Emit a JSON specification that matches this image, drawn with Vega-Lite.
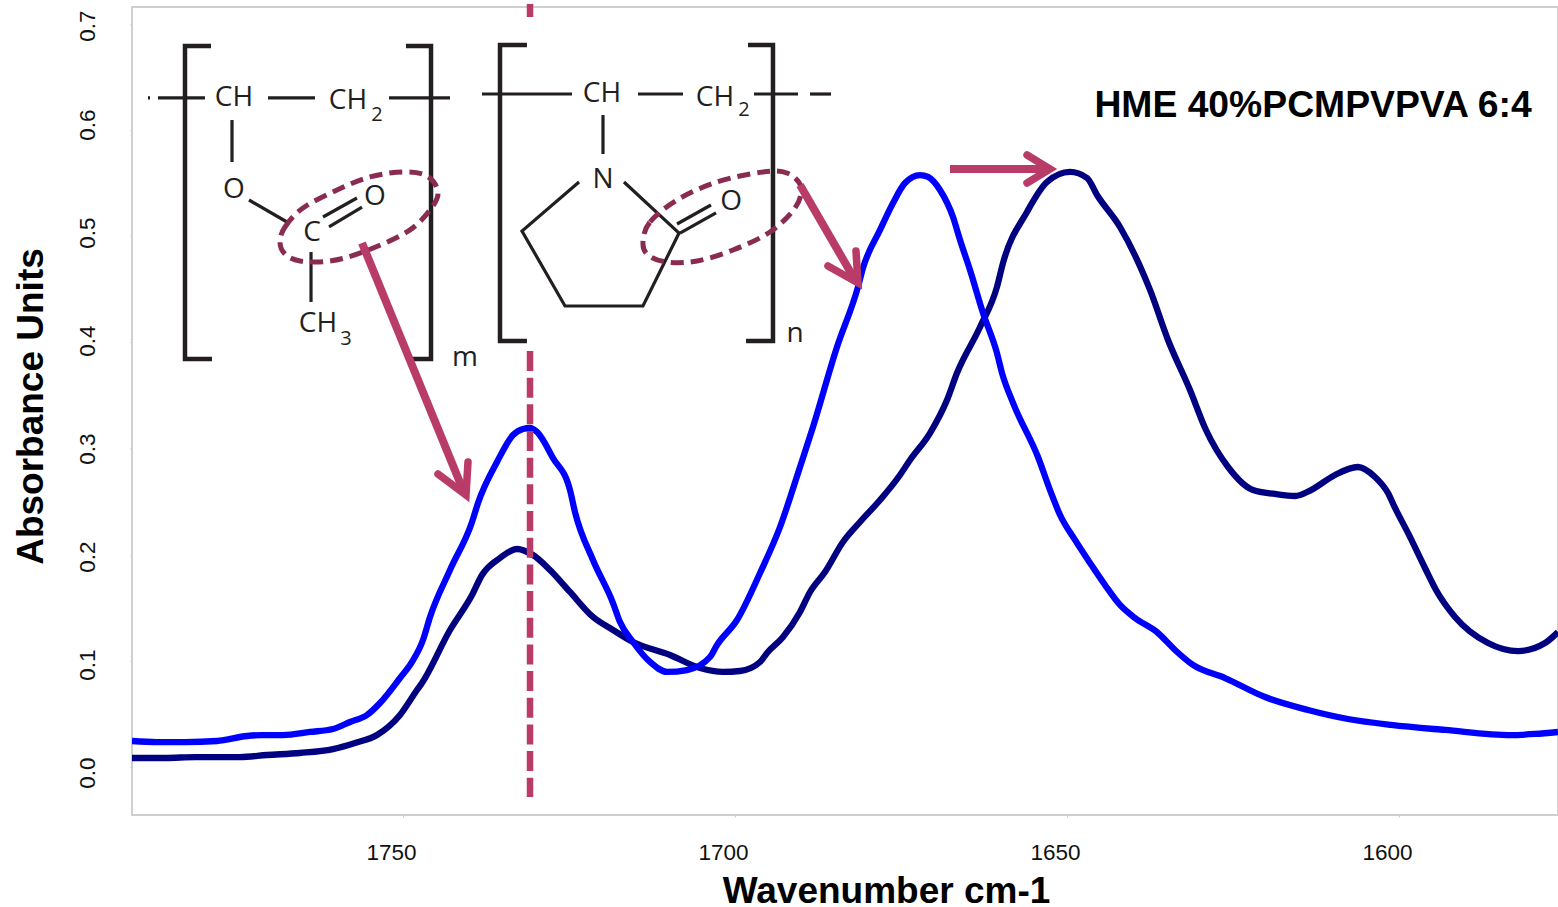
{
"$schema":"https://vega.github.io/schema/vega-lite/v6.json",
"width":1426,"height":808,
"autosize":{"type":"none"},
"padding":{"left":132,"top":7,"right":0,"bottom":92},
"background":"white",
"view":{"stroke":"#cfcfcf","strokeWidth":2,"fill":"white"},
"config":{"text":{"font":"Open Sans","color":"#231f20"}},
"encoding":{
"x":{"field":"wavenumber","type":"quantitative","scale":{"domain":[1790.81,1576.06],"zero":false,"nice":false},
"axis":{"values":[1750,1700,1650,1600],"format":"d","grid":false,"domain":false,"ticks":true,"tickSize":2,"tickColor":"#cccccc","labelFont":"Liberation Sans","labelFontSize":22.5,"labelColor":"#111111","labelOffset":-12,"labelPadding":24,"labelFlush":false,"labelOverlap":false,
"title":"Wavenumber cm-1","titleFont":"Liberation Sans","titleFontWeight":"bold","titleFontSize":37,"titleColor":"#000000","titleX":754,"titleY":58}},
"y":{"field":"absorbance","type":"quantitative","scale":{"domain":[-0.04519,0.71564],"zero":false,"nice":false},
"axis":{"values":[0,0.1,0.2,0.3,0.4,0.5,0.6,0.7],"format":".1f","grid":false,"domain":false,"ticks":true,"tickSize":2,"tickColor":"#cccccc","labelFont":"Liberation Sans","labelFontSize":22.5,"labelColor":"#111111","labelAngle":-90,"labelAlign":"center","labelBaseline":"middle","labelPadding":43,"labelOverlap":false,
"labelOffset":{"expr":"datum.value > 0.65 ? 2 : 5.5 - 18 * datum.value"},
"title":"Absorbance Units","titleFont":"Liberation Sans","titleFontWeight":"bold","titleFontSize":37,"titleColor":"#000000","titleX":-82,"titleY":399}}
},
"layer":[
{"data":{"name":"navy"},"mark":{"type":"line","color":"#000080","strokeWidth":6.3,"clip":true,"interpolate":"monotone"}},
{"data":{"name":"blue"},"mark":{"type":"line","color":"#0000ff","strokeWidth":6.3,"clip":true,"interpolate":"monotone"}},
{"data":{"name":"dashed"},"mark":{"type":"line","color":"#b83b68","strokeWidth":6.5,"strokeDash":[20,6.67],"clip":false},"encoding":{"detail":{"field":"part"},"order":{"value":null}}},
{"data":{"name":"brackets"},"mark":{"type":"line","color":"#231f20","strokeWidth":4.5,"strokeJoin":"miter"},"encoding":{"detail":{"field":"part"},"order":{"value":null}}},
{"data":{"name":"bonds"},"mark":{"type":"line","color":"#231f20","strokeWidth":3.2,"strokeJoin":"miter"},"encoding":{"detail":{"field":"part"},"order":{"value":null}}},
{"data":{"name":"atoms"},"mark":{"type":"text","fontSize":28,"align":"center","baseline":"middle","dy":1.5,"font":"Open Sans","color":"#231f20"},"encoding":{"text":{"field":"label"}}},
{"data":{"name":"subscripts"},"mark":{"type":"text","fontSize":20,"align":"center","baseline":"middle","dy":1.5,"font":"Open Sans","color":"#231f20"},"encoding":{"text":{"field":"label"}}},
{"data":{"name":"ellipses"},"mark":{"type":"line","color":"#8a2c52","strokeWidth":5,"strokeDash":[13,7],"interpolate":"cardinal-closed"},"encoding":{"detail":{"field":"part"},"order":{"value":null}}},
{"data":{"name":"shafts"},"mark":{"type":"line","color":"#b83b68","strokeWidth":8},"encoding":{"detail":{"field":"part"},"order":{"value":null}}},
{"data":{"name":"heads"},"mark":{"type":"line","color":"#b83b68","strokeWidth":7.5,"strokeCap":"round","strokeJoin":"miter","strokeMiterLimit":10},"encoding":{"detail":{"field":"part"},"order":{"value":null}}},
{"data":{"name":"caption"},"mark":{"type":"text","fontSize":37.3,"fontWeight":"bold","align":"center","baseline":"middle","dy":2,"font":"Liberation Sans","color":"#000000"},"encoding":{"text":{"field":"label"}}}
],
"datasets":{
"blue":[
{"wavenumber":1790.81,"absorbance":0.0245},{"wavenumber":1787.05,"absorbance":0.0235},{"wavenumber":1782.83,"absorbance":0.0235},{"wavenumber":1778.01,"absorbance":0.0245},{"wavenumber":1773.49,"absorbance":0.0292},{"wavenumber":1771.23,"absorbance":0.0301},{"wavenumber":1768.07,"absorbance":0.0301},{"wavenumber":1764.0,"absorbance":0.033},{"wavenumber":1760.54,"absorbance":0.0358},{"wavenumber":1757.98,"absorbance":0.0424},{"wavenumber":1755.42,"absorbance":0.049},{"wavenumber":1753.46,"absorbance":0.0603},{"wavenumber":1750.45,"absorbance":0.0838},{"wavenumber":1748.64,"absorbance":0.0989},{"wavenumber":1746.99,"absorbance":0.1196},{"wavenumber":1745.93,"absorbance":0.1413},{"wavenumber":1742.92,"absorbance":0.1855},{"wavenumber":1739.6,"absorbance":0.2307},{"wavenumber":1738.7,"absorbance":0.2486},{"wavenumber":1735.84,"absorbance":0.2872},{"wavenumber":1733.43,"absorbance":0.3126},{"wavenumber":1731.93,"absorbance":0.3183},{"wavenumber":1730.87,"absorbance":0.3192},{"wavenumber":1729.82,"absorbance":0.3155},{"wavenumber":1727.41,"absorbance":0.291},{"wavenumber":1724.85,"absorbance":0.2608},{"wavenumber":1724.1,"absorbance":0.2401},{"wavenumber":1721.39,"absorbance":0.1949},{"wavenumber":1718.37,"absorbance":0.1544},{"wavenumber":1717.32,"absorbance":0.1365},{"wavenumber":1715.36,"absorbance":0.1177},{"wavenumber":1712.8,"absorbance":0.0989},{"wavenumber":1710.24,"absorbance":0.0895},{"wavenumber":1707.23,"absorbance":0.0913},{"wavenumber":1703.77,"absorbance":0.1036},{"wavenumber":1702.71,"absorbance":0.1149},{"wavenumber":1699.7,"absorbance":0.1384},{"wavenumber":1696.23,"absorbance":0.1827},{"wavenumber":1693.22,"absorbance":0.226},{"wavenumber":1690.21,"absorbance":0.2825},{"wavenumber":1688.4,"absorbance":0.3173},{"wavenumber":1684.64,"absorbance":0.3955},{"wavenumber":1681.48,"absorbance":0.452},{"wavenumber":1680.72,"absorbance":0.4699},{"wavenumber":1678.16,"absorbance":0.5057},{"wavenumber":1676.2,"absorbance":0.5311},{"wavenumber":1674.4,"absorbance":0.5499},{"wavenumber":1672.14,"absorbance":0.5574},{"wavenumber":1670.93,"absorbance":0.5556},{"wavenumber":1669.13,"absorbance":0.5433},{"wavenumber":1667.17,"absorbance":0.5179},{"wavenumber":1666.11,"absorbance":0.4962},{"wavenumber":1664.61,"absorbance":0.468},{"wavenumber":1662.65,"absorbance":0.4275},{"wavenumber":1660.55,"absorbance":0.3898},{"wavenumber":1659.79,"absorbance":0.371},{"wavenumber":1658.13,"absorbance":0.3428},{"wavenumber":1654.37,"absorbance":0.2919},{"wavenumber":1652.56,"absorbance":0.2608},{"wavenumber":1651.05,"absorbance":0.2373},{"wavenumber":1648.8,"absorbance":0.2138},{"wavenumber":1646.53,"absorbance":0.1921},{"wavenumber":1644.28,"absorbance":0.1714},{"wavenumber":1642.02,"absorbance":0.1526},{"wavenumber":1639.76,"absorbance":0.1403},{"wavenumber":1636.3,"absorbance":0.1262},{"wavenumber":1633.74,"absorbance":0.1102},{"wavenumber":1631.03,"absorbance":0.0961},{"wavenumber":1626.2,"absorbance":0.0838},{"wavenumber":1620.18,"absorbance":0.0659},{"wavenumber":1613.7,"absorbance":0.0537},{"wavenumber":1607.68,"absorbance":0.0452},{"wavenumber":1601.2,"absorbance":0.0396},{"wavenumber":1593.07,"absorbance":0.0349},{"wavenumber":1583.12,"absorbance":0.0301},{"wavenumber":1579.52,"absorbance":0.0311},{"wavenumber":1576.06,"absorbance":0.033}
],
"navy":[
{"wavenumber":1790.81,"absorbance":0.0085},{"wavenumber":1785.84,"absorbance":0.0085},{"wavenumber":1781.32,"absorbance":0.0094},{"wavenumber":1774.55,"absorbance":0.0094},{"wavenumber":1770.48,"absorbance":0.0113},{"wavenumber":1765.51,"absorbance":0.0132},{"wavenumber":1760.54,"absorbance":0.0169},{"wavenumber":1757.23,"absorbance":0.0226},{"wavenumber":1753.91,"absorbance":0.0301},{"wavenumber":1750.45,"absorbance":0.049},{"wavenumber":1747.89,"absorbance":0.0725},{"wavenumber":1747.14,"absorbance":0.0791},{"wavenumber":1742.92,"absorbance":0.129},{"wavenumber":1739.6,"absorbance":0.162},{"wavenumber":1738.1,"absorbance":0.1808},{"wavenumber":1735.39,"absorbance":0.1968},{"wavenumber":1732.83,"absorbance":0.2053},{"wavenumber":1730.42,"absorbance":0.1996},{"wavenumber":1727.86,"absorbance":0.1855},{"wavenumber":1724.85,"absorbance":0.1648},{"wavenumber":1721.39,"absorbance":0.1413},{"wavenumber":1718.37,"absorbance":0.129},{"wavenumber":1715.36,"absorbance":0.1177},{"wavenumber":1709.79,"absorbance":0.1055},{"wavenumber":1705.27,"absorbance":0.0932},{"wavenumber":1701.81,"absorbance":0.0895},{"wavenumber":1699.25,"absorbance":0.0904},{"wavenumber":1696.23,"absorbance":0.0989},{"wavenumber":1695.18,"absorbance":0.1074},{"wavenumber":1692.77,"absorbance":0.1224},{"wavenumber":1690.21,"absorbance":0.146},{"wavenumber":1688.7,"absorbance":0.1648},{"wavenumber":1686.45,"absorbance":0.1836},{"wavenumber":1683.74,"absorbance":0.2119},{"wavenumber":1681.18,"absorbance":0.2307},{"wavenumber":1678.16,"absorbance":0.2514},{"wavenumber":1675.15,"absorbance":0.275},{"wavenumber":1673.64,"absorbance":0.2891},{"wavenumber":1670.63,"absorbance":0.3145},{"wavenumber":1668.07,"absorbance":0.3456},{"wavenumber":1666.57,"absorbance":0.371},{"wavenumber":1663.1,"absorbance":0.4143},{"wavenumber":1660.55,"absorbance":0.452},{"wavenumber":1659.64,"absorbance":0.4746},{"wavenumber":1656.03,"absorbance":0.5226},{"wavenumber":1653.0,"absorbance":0.5509},{"wavenumber":1649.55,"absorbance":0.5603},{"wavenumber":1646.98,"absorbance":0.5546},{"wavenumber":1645.48,"absorbance":0.5386},{"wavenumber":1642.02,"absorbance":0.5085},{"wavenumber":1638.56,"absorbance":0.4652},{"wavenumber":1637.5,"absorbance":0.4492},{"wavenumber":1634.79,"absorbance":0.4021},{"wavenumber":1631.48,"absorbance":0.355},{"wavenumber":1629.07,"absorbance":0.3173},{"wavenumber":1625.75,"absorbance":0.2825},{"wavenumber":1621.99,"absorbance":0.2608},{"wavenumber":1618.68,"absorbance":0.2571},{"wavenumber":1615.67,"absorbance":0.2552},{"wavenumber":1613.26,"absorbance":0.2608},{"wavenumber":1609.64,"absorbance":0.275},{"wavenumber":1606.23,"absorbance":0.2825},{"wavenumber":1603.62,"absorbance":0.2731},{"wavenumber":1601.66,"absorbance":0.258},{"wavenumber":1600.6,"absorbance":0.2439},{"wavenumber":1598.65,"absorbance":0.2204},{"wavenumber":1596.09,"absorbance":0.1874},{"wavenumber":1594.43,"absorbance":0.1667},{"wavenumber":1591.57,"absorbance":0.1413},{"wavenumber":1586.6,"absorbance":0.1168},{"wavenumber":1582.08,"absorbance":0.1092},{"wavenumber":1578.01,"absorbance":0.1168},{"wavenumber":1576.06,"absorbance":0.1271}
],
"dashed":[
{"part":"top","wavenumber":1730.87,"absorbance":0.7185},{"part":"top","wavenumber":1730.87,"absorbance":0.7062},
{"part":"low","wavenumber":1730.87,"absorbance":0.3917},{"part":"low","wavenumber":1730.87,"absorbance":-0.0282}
],
"brackets":[
{"part":"b1","wavenumber":1778.91,"absorbance":0.6789},{"part":"b1","wavenumber":1782.83,"absorbance":0.6789},{"part":"b1","wavenumber":1782.83,"absorbance":0.3842},{"part":"b1","wavenumber":1778.76,"absorbance":0.3842},
{"part":"b2","wavenumber":1749.55,"absorbance":0.6789},{"part":"b2","wavenumber":1745.78,"absorbance":0.6789},{"part":"b2","wavenumber":1745.78,"absorbance":0.3842},{"part":"b2","wavenumber":1749.55,"absorbance":0.3842},
{"part":"b3","wavenumber":1731.33,"absorbance":0.6799},{"part":"b3","wavenumber":1735.39,"absorbance":0.6799},{"part":"b3","wavenumber":1735.39,"absorbance":0.4011},{"part":"b3","wavenumber":1731.33,"absorbance":0.4011},
{"part":"b4","wavenumber":1698.04,"absorbance":0.6799},{"part":"b4","wavenumber":1694.28,"absorbance":0.6799},{"part":"b4","wavenumber":1694.28,"absorbance":0.4011},{"part":"b4","wavenumber":1698.34,"absorbance":0.4011}
],
"bonds":[
{"part":"s0","wavenumber":1788.4,"absorbance":0.63},{"part":"s0","wavenumber":1788.1,"absorbance":0.63},
{"part":"s1","wavenumber":1786.9,"absorbance":0.63},{"part":"s1","wavenumber":1779.82,"absorbance":0.63},
{"part":"s2","wavenumber":1770.33,"absorbance":0.63},{"part":"s2","wavenumber":1763.25,"absorbance":0.63},
{"part":"s3","wavenumber":1752.11,"absorbance":0.63},{"part":"s3","wavenumber":1742.92,"absorbance":0.63},
{"part":"s4","wavenumber":1775.75,"absorbance":0.6092},{"part":"s4","wavenumber":1775.75,"absorbance":0.5697},
{"part":"s5","wavenumber":1773.19,"absorbance":0.5339},{"part":"s5","wavenumber":1767.47,"absorbance":0.5132},
{"part":"s6","wavenumber":1762.05,"absorbance":0.5179},{"part":"s6","wavenumber":1756.93,"absorbance":0.5358},
{"part":"s7","wavenumber":1761.14,"absorbance":0.5085},{"part":"s7","wavenumber":1756.17,"absorbance":0.5273},
{"part":"s8","wavenumber":1763.85,"absorbance":0.4849},{"part":"s8","wavenumber":1763.85,"absorbance":0.4379},
{"part":"s9","wavenumber":1738.1,"absorbance":0.6337},{"part":"s9","wavenumber":1724.55,"absorbance":0.6337},
{"part":"s10","wavenumber":1714.61,"absorbance":0.6337},{"part":"s10","wavenumber":1707.83,"absorbance":0.6337},
{"part":"s11","wavenumber":1697.14,"absorbance":0.6337},{"part":"s11","wavenumber":1690.51,"absorbance":0.6337},
{"part":"s12","wavenumber":1688.7,"absorbance":0.6337},{"part":"s12","wavenumber":1685.54,"absorbance":0.6337},
{"part":"s13","wavenumber":1719.88,"absorbance":0.6139},{"part":"s13","wavenumber":1719.88,"absorbance":0.5772},
{"part":"ring","wavenumber":1723.49,"absorbance":0.5509},{"part":"ring","wavenumber":1732.08,"absorbance":0.5047},{"part":"ring","wavenumber":1725.6,"absorbance":0.4341},{"part":"ring","wavenumber":1713.86,"absorbance":0.4341},{"part":"ring","wavenumber":1708.43,"absorbance":0.5028},{"part":"ring","wavenumber":1716.72,"absorbance":0.5509},
{"part":"s15","wavenumber":1708.73,"absorbance":0.5113},{"part":"s15","wavenumber":1703.62,"absorbance":0.5292},
{"part":"s16","wavenumber":1708.28,"absorbance":0.5028},{"part":"s16","wavenumber":1702.86,"absorbance":0.5217}
],
"atoms":[
{"label":"CH","wavenumber":1775.45,"absorbance":0.6309},{"label":"CH","wavenumber":1758.28,"absorbance":0.6281},{"label":"O","wavenumber":1775.45,"absorbance":0.5452},{"label":"C","wavenumber":1763.7,"absorbance":0.5038},{"label":"O","wavenumber":1754.22,"absorbance":0.5377},{"label":"CH","wavenumber":1762.8,"absorbance":0.419},{"label":"m","wavenumber":1740.66,"absorbance":0.3861},{"label":"CH","wavenumber":1720.03,"absorbance":0.6347},{"label":"N","wavenumber":1719.88,"absorbance":0.5537},{"label":"O","wavenumber":1700.6,"absorbance":0.5339},{"label":"CH","wavenumber":1703.02,"absorbance":0.6318},{"label":"n","wavenumber":1690.97,"absorbance":0.4087}
],
"subscripts":[
{"label":"2","wavenumber":1753.91,"absorbance":0.6149},{"label":"3","wavenumber":1758.58,"absorbance":0.4049},{"label":"2","wavenumber":1698.64,"absorbance":0.6196}
],
"ellipses":[
{"part":"left","wavenumber":1768.52,"absorbance":0.4944},{"part":"left","wavenumber":1767.77,"absorbance":0.5085},{"part":"left","wavenumber":1765.06,"absorbance":0.5264},{"part":"left","wavenumber":1759.94,"absorbance":0.5433},{"part":"left","wavenumber":1754.97,"absorbance":0.5556},{"part":"left","wavenumber":1750.0,"absorbance":0.5603},{"part":"left","wavenumber":1746.38,"absorbance":0.5565},{"part":"left","wavenumber":1744.73,"absorbance":0.5414},{"part":"left","wavenumber":1745.93,"absorbance":0.5245},{"part":"left","wavenumber":1749.4,"absorbance":0.5038},{"part":"left","wavenumber":1756.02,"absorbance":0.4849},{"part":"left","wavenumber":1761.0,"absorbance":0.4765},{"part":"left","wavenumber":1765.51,"absorbance":0.4765},{"part":"left","wavenumber":1767.77,"absorbance":0.4831},
{"part":"right","wavenumber":1713.86,"absorbance":0.4944},{"part":"right","wavenumber":1712.8,"absorbance":0.5132},{"part":"right","wavenumber":1708.73,"absorbance":0.5339},{"part":"right","wavenumber":1702.71,"absorbance":0.5509},{"part":"right","wavenumber":1695.78,"absorbance":0.5603},{"part":"right","wavenumber":1692.17,"absorbance":0.5593},{"part":"right","wavenumber":1690.06,"absorbance":0.5461},{"part":"right","wavenumber":1690.96,"absorbance":0.5264},{"part":"right","wavenumber":1694.73,"absorbance":0.5038},{"part":"right","wavenumber":1700.3,"absorbance":0.4868},{"part":"right","wavenumber":1705.72,"absorbance":0.4765},{"part":"right","wavenumber":1710.24,"absorbance":0.4755},{"part":"right","wavenumber":1713.1,"absorbance":0.4821}
],
"shafts":[
{"part":"a1","wavenumber":1756.17,"absorbance":0.4934},{"part":"a1","wavenumber":1740.96,"absorbance":0.2608},
{"part":"a2","wavenumber":1690.21,"absorbance":0.548},{"part":"a2","wavenumber":1681.92,"absorbance":0.4586},
{"part":"a3","wavenumber":1667.62,"absorbance":0.5631},{"part":"a3","wavenumber":1652.56,"absorbance":0.5631}
],
"heads":[
{"part":"h1","wavenumber":1744.73,"absorbance":0.2759},{"part":"h1","wavenumber":1740.51,"absorbance":0.2561},{"part":"h1","wavenumber":1740.21,"absorbance":0.2872},
{"part":"h2","wavenumber":1686.0,"absorbance":0.4718},{"part":"h2","wavenumber":1681.48,"absorbance":0.4558},{"part":"h2","wavenumber":1681.78,"absorbance":0.4859},
{"part":"h3","wavenumber":1656.02,"absorbance":0.5763},{"part":"h3","wavenumber":1652.56,"absorbance":0.5631},{"part":"h3","wavenumber":1656.02,"absorbance":0.5499}
],
"caption":[{"label":"HME 40%PCMPVPVA 6:4","wavenumber":1612.95,"absorbance":0.6243}]
}
}
